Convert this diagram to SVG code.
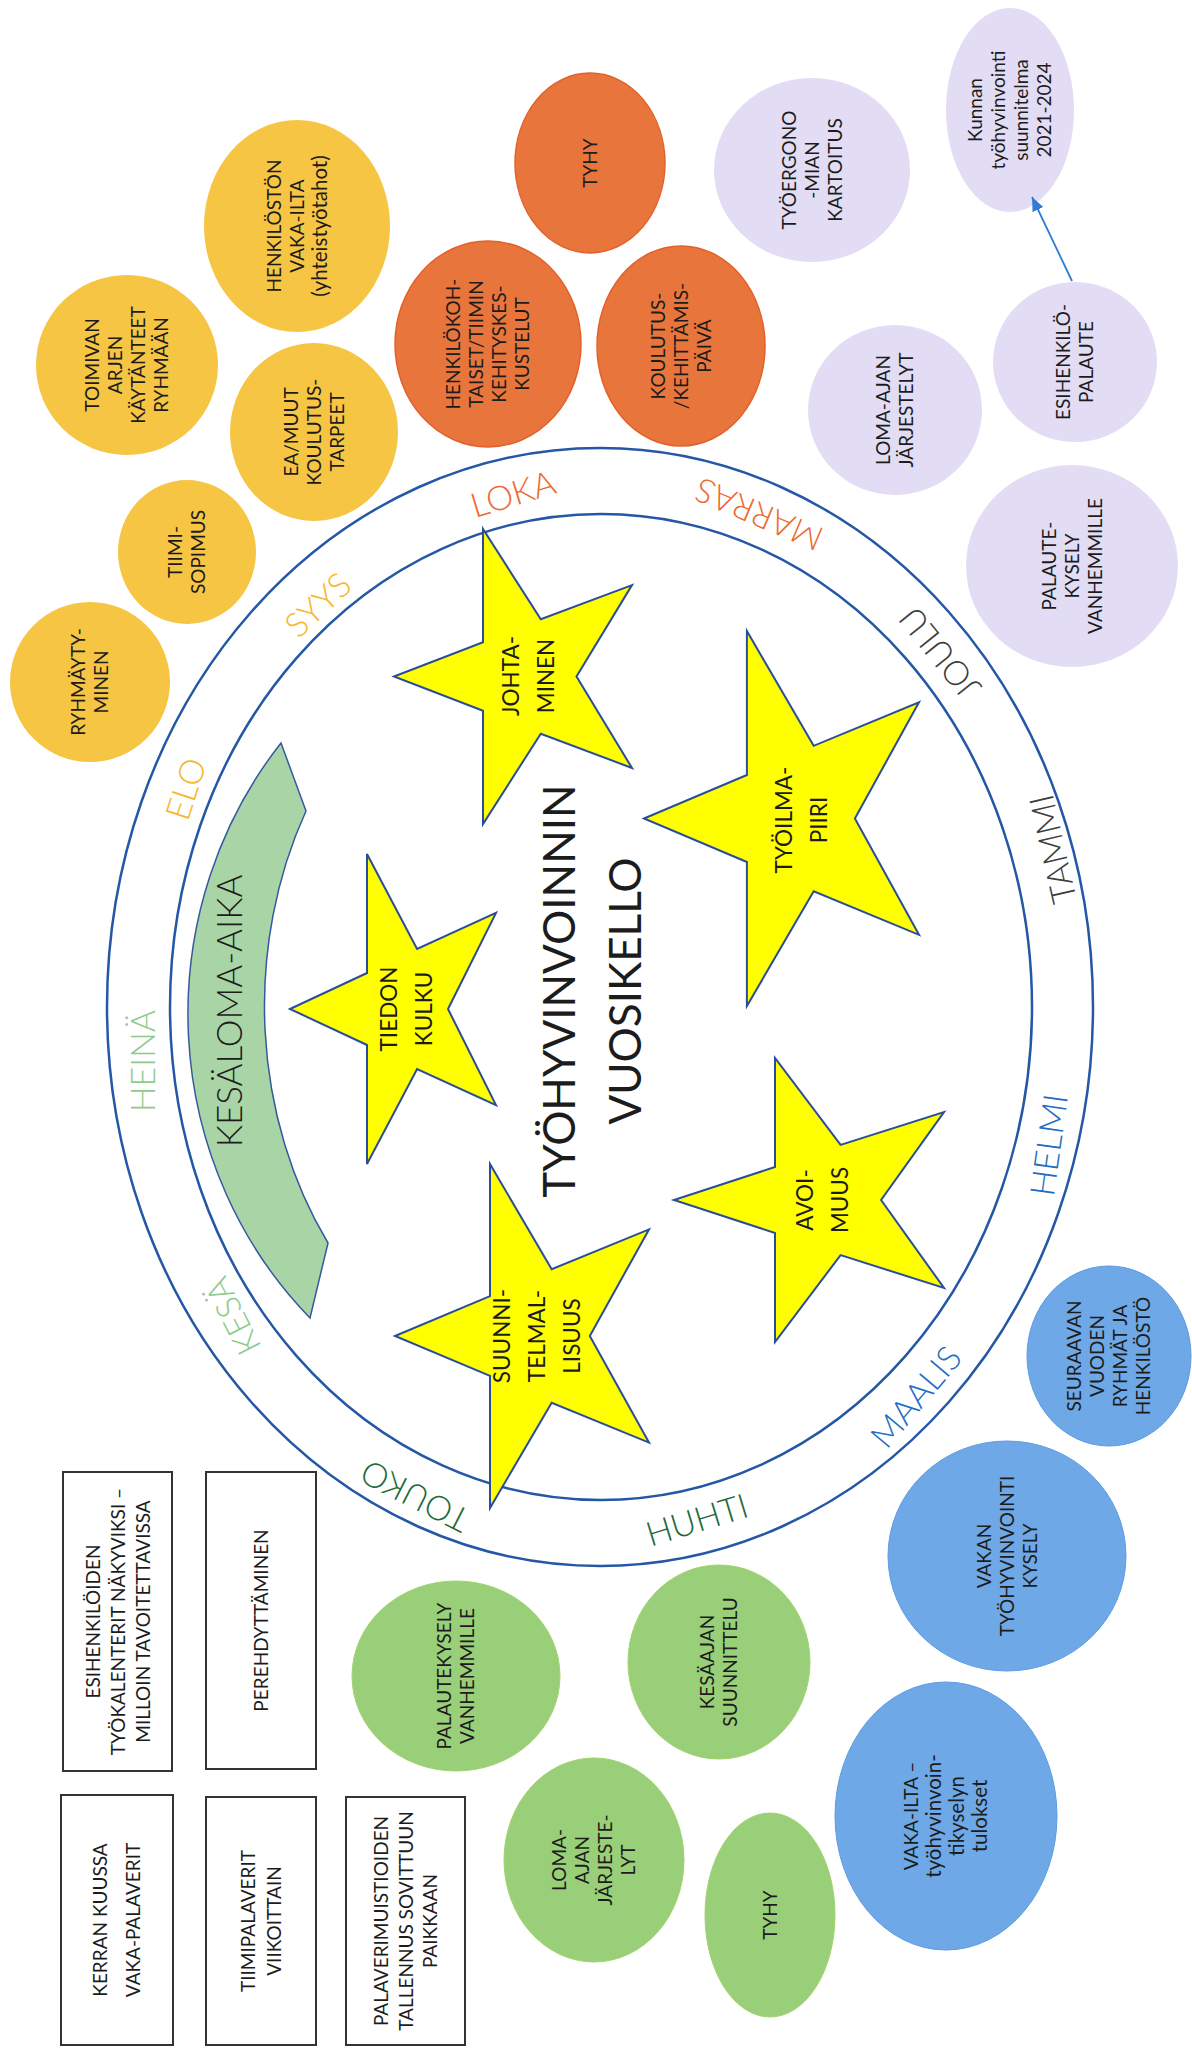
<svg xmlns="http://www.w3.org/2000/svg" width="1192" height="2056" viewBox="0 0 1192 2056">
<defs>
<style>
.t{font-family:Lato,"Open Sans","Liberation Sans",sans-serif;fill:#1c1c1c;text-anchor:middle}
.c{font-size:19px}
.s{font-size:22.5px}
.m{font-size:34px;font-weight:300}
.yel{fill:#F7C544}
.ora{fill:#E8763C;stroke:#E4602A;stroke-width:1.5}
.lil{fill:#E2DDF4}
.blu{fill:#6EA8E6;stroke:#5B9CE4;stroke-width:1}
.grn{fill:#99CF78;stroke:#A2D46C;stroke-width:1}
.star{fill:#FFFF00;stroke:#2A4D9B;stroke-width:2;stroke-linejoin:miter}
.ring{fill:none;stroke:#2457A6;stroke-width:2.5}
.box{fill:#fff;stroke:#333;stroke-width:2}
</style>
<marker id="ah" markerUnits="userSpaceOnUse" markerWidth="14" markerHeight="12" refX="14" refY="6" orient="auto">
<path d="M0,0 L14,6 L0,12 Z" fill="#2F7BD6"/>
</marker>
</defs>
<rect width="1192" height="2056" fill="#fff"/>

<g id="ring">
<ellipse class="ring" cx="600" cy="1007" rx="493" ry="559"/>
<ellipse class="ring" cx="601" cy="1007" rx="431" ry="493"/>
</g>

<g id="kesaloma">
<path d="M281,743 A412,428 0 0 0 310,1318 L328,1243 A336,405 0 0 1 306,811 Z" fill="#A9D4A6" stroke="#3559A0" stroke-width="1.5"/>
<text class="t" transform="translate(242 1011) rotate(-90)" font-size="35" font-weight="300">KESÄLOMA-AIKA</text>
</g>

<g id="title">
<text class="t" transform="translate(575 991) rotate(-90)" font-size="44">TYÖHYVINVOINNIN</text>
<text class="t" transform="translate(641 991) rotate(-90)" font-size="44">VUOSIKELLO</text>
</g>

<g id="months">
<text class="t m" transform="translate(513 494) rotate(-17)" dy=".35em" style="fill:#EE6A2F">LOKA</text>
<text class="t m" transform="translate(759 514) rotate(203)" dy=".35em" style="fill:#EE6A2F">MARRAS</text>
<text class="t m" transform="translate(940 653) rotate(231)" dy=".35em" style="fill:#3E3E3E">JOULU</text>
<text class="t m" transform="translate(1053 849) rotate(-103)" dy=".35em" style="fill:#3E3E3E">TAMMI</text>
<text class="t m" transform="translate(1049 1145) rotate(-82)" dy=".35em" style="fill:#1F6DC4">HELMI</text>
<text class="t m" transform="translate(916 1397) rotate(-50)" dy=".35em" style="fill:#1F6DC4">MAALIS</text>
<text class="t m" transform="translate(697 1520) rotate(-17)" dy=".35em" style="fill:#1E6A36">HUHTI</text>
<text class="t m" transform="translate(415 1496) rotate(207)" dy=".35em" style="fill:#1E6A36">TOUKO</text>
<text class="t m" transform="translate(233 1316) rotate(-117)" dy=".35em" style="fill:#8FCB8E">KESÄ</text>
<text class="t m" transform="translate(143 1061) rotate(-90)" dy=".35em" style="fill:#8FCB8E">HEINÄ</text>
<text class="t m" transform="translate(186 789) rotate(-72)" dy=".35em" style="fill:#F5B82E">ELO</text>
<text class="t m" transform="translate(318 605) rotate(-43)" dy=".35em" style="fill:#F5B82E">SYYS</text>
</g>

<g id="star-johtaminen">
<path class="star" d="M394,676.5 L483,642.3 L483,529 L540.8,619.3 L632,585.1 L576.5,676.5 L632,768 L540.8,733.7 L483,824 L483,710.7 Z"/>
<text class="t s" transform="translate(528 676) rotate(-90)"><tspan x="0" y="-9.5">JOHTA-</tspan><tspan x="0" y="25.5">MINEN</tspan></text>
</g>
<g id="star-tiedon">
<path class="star" d="M290,1009 L367,973 L367,854 L417.1,948.9 L496,912.9 L448,1009 L496,1105.1 L417.1,1069.1 L367,1164 L367,1045 Z"/>
<text class="t s" transform="translate(406 1009) rotate(-90)"><tspan x="0" y="-9.5">TIEDON</tspan><tspan x="0" y="25.5">KULKU</tspan></text>
</g>
<g id="star-tyoilmapiiri">
<path class="star" d="M644,818.5 L746.9,775 L746.9,631 L813.7,745.8 L919,702.3 L854.9,818.5 L919,934.8 L813.7,891.3 L746.9,1006 L746.9,862 Z"/>
<text class="t s" transform="translate(801 820) rotate(-90)"><tspan x="0" y="-9.5">TYÖILMA-</tspan><tspan x="0" y="25.5">PIIRI</tspan></text>
</g>
<g id="star-avoimuus">
<path class="star" d="M674,1200 L775,1167 L775,1058 L840.6,1144.9 L944,1112 L881.1,1200 L944,1288 L840.6,1255.1 L775,1342 L775,1233 Z"/>
<text class="t s" transform="translate(822 1200) rotate(-90)"><tspan x="0" y="-9.5">AVOI-</tspan><tspan x="0" y="25.5">MUUS</tspan></text>
</g>
<g id="star-suunnitelmallisuus">
<path class="star" d="M395,1336 L490,1296.1 L490,1164 L551.7,1269.3 L649,1229.4 L589.8,1336 L649,1442.6 L551.7,1402.7 L490,1508 L490,1375.9 Z"/>
<text class="t s" transform="translate(537 1336) rotate(-90)"><tspan x="0" y="-27">SUUNNI-</tspan><tspan x="0" y="8">TELMAL-</tspan><tspan x="0" y="43">LISUUS</tspan></text>
</g>

<g id="ryhmaytyminen" transform="translate(90 682)">
<ellipse class="yel" rx="80" ry="80"/>
<text class="t c" transform="rotate(-90)"><tspan x="0" y="-5">RYHMÄYTY-</tspan><tspan x="0" y="18">MINEN</tspan></text>
</g>
<g id="tiimisopimus" transform="translate(187 552)">
<ellipse class="yel" rx="69" ry="72"/>
<text class="t c" transform="rotate(-90)"><tspan x="0" y="-5">TIIMI-</tspan><tspan x="0" y="18">SOPIMUS</tspan></text>
</g>
<g id="toimivan" transform="translate(127 365)">
<ellipse class="yel" rx="91" ry="90"/>
<text class="t c" transform="rotate(-90)"><tspan x="0" y="-28">TOIMIVAN</tspan><tspan x="0" y="-5">ARJEN</tspan><tspan x="0" y="18">KÄYTÄNTEET</tspan><tspan x="0" y="41">RYHMÄÄN</tspan></text>
</g>
<g id="henkiloston" transform="translate(297 226)">
<ellipse class="yel" rx="93" ry="106"/>
<text class="t c" transform="rotate(-90)"><tspan x="0" y="-16">HENKILÖSTÖN</tspan><tspan x="0" y="7">VAKA-ILTA</tspan><tspan x="0" y="30" font-size="20.5">(yhteistyötahot)</tspan></text>
</g>
<g id="eamuut" transform="translate(314 432)">
<ellipse class="yel" rx="84" ry="89"/>
<text class="t c" transform="rotate(-90)"><tspan x="0" y="-16">EA/MUUT</tspan><tspan x="0" y="7">KOULUTUS-</tspan><tspan x="0" y="30">TARPEET</tspan></text>
</g>

<g id="tyhy-orange" transform="translate(590 163)">
<ellipse class="ora" rx="75" ry="90"/>
<text class="t c" transform="rotate(-90)"><tspan x="0" y="7">TYHY</tspan></text>
</g>
<g id="henkilokohtaiset" transform="translate(488 344)">
<ellipse class="ora" rx="93" ry="103"/>
<text class="t c" transform="rotate(-90)"><tspan x="0" y="-28">HENKILÖKOH-</tspan><tspan x="0" y="-5">TAISET/TIIMIN</tspan><tspan x="0" y="18">KEHITYSKES-</tspan><tspan x="0" y="41">KUSTELUT</tspan></text>
</g>
<g id="koulutuspaiva" transform="translate(681 346)">
<ellipse class="ora" rx="84" ry="100"/>
<text class="t c" transform="rotate(-90)"><tspan x="0" y="-16">KOULUTUS-</tspan><tspan x="0" y="7">/KEHITTÄMIS-</tspan><tspan x="0" y="30">PÄIVÄ</tspan></text>
</g>

<g id="tyoergonomia" transform="translate(812 170)">
<ellipse class="lil" rx="98" ry="92"/>
<text class="t c" transform="rotate(-90)"><tspan x="0" y="-16">TYÖERGONO</tspan><tspan x="0" y="7">-MIAN</tspan><tspan x="0" y="30">KARTOITUS</tspan></text>
</g>
<g id="kunnan" transform="translate(1010 110)">
<ellipse class="lil" rx="64" ry="102"/>
<text class="t c" transform="rotate(-90)" font-size="20.5"><tspan x="0" y="-28">Kunnan</tspan><tspan x="0" y="-5">työhyvinvointi</tspan><tspan x="0" y="18">suunnitelma</tspan><tspan x="0" y="41">2021-2024</tspan></text>
</g>
<g id="lomaajan-lila" transform="translate(895 410)">
<ellipse class="lil" rx="87" ry="85"/>
<text class="t c" transform="rotate(-90)"><tspan x="0" y="-5">LOMA-AJAN</tspan><tspan x="0" y="18">JÄRJESTELYT</tspan></text>
</g>
<g id="esihenkilopalaute" transform="translate(1075 362)">
<ellipse class="lil" rx="82" ry="80"/>
<text class="t c" transform="rotate(-90)"><tspan x="0" y="-5">ESIHENKILÖ-</tspan><tspan x="0" y="18">PALAUTE</tspan></text>
</g>
<g id="palautekysely-lila" transform="translate(1072 566)">
<ellipse class="lil" rx="106" ry="101"/>
<text class="t c" transform="rotate(-90)"><tspan x="0" y="-16">PALAUTE-</tspan><tspan x="0" y="7">KYSELY</tspan><tspan x="0" y="30">VANHEMMILLE</tspan></text>
</g>

<g id="seuraavan" transform="translate(1109 1356)">
<ellipse class="blu" rx="82" ry="90"/>
<text class="t c" transform="rotate(-90)"><tspan x="0" y="-28">SEURAAVAN</tspan><tspan x="0" y="-5">VUODEN</tspan><tspan x="0" y="18">RYHMÄT JA</tspan><tspan x="0" y="41">HENKILÖSTÖ</tspan></text>
</g>
<g id="vakan-kysely" transform="translate(1007 1556)">
<ellipse class="blu" rx="119" ry="115"/>
<text class="t c" transform="rotate(-90)"><tspan x="0" y="-16">VAKAN</tspan><tspan x="0" y="7">TYÖHYVINVOINTI</tspan><tspan x="0" y="30">KYSELY</tspan></text>
</g>
<g id="vaka-ilta-tulokset" transform="translate(946 1816)">
<ellipse class="blu" rx="111" ry="134"/>
<text class="t c" transform="rotate(-90)"><tspan x="0" y="-28">VAKA-ILTA –</tspan><tspan x="0" y="-5" font-size="20.5">työhyvinvoin-</tspan><tspan x="0" y="18" font-size="20.5">tikyselyn</tspan><tspan x="0" y="41" font-size="20.5">tulokset</tspan></text>
</g>

<g id="palautekysely-vihrea" transform="translate(456 1676)">
<ellipse class="grn" rx="104" ry="95"/>
<text class="t c" transform="rotate(-90)"><tspan x="0" y="-5">PALAUTEKYSELY</tspan><tspan x="0" y="18">VANHEMMILLE</tspan></text>
</g>
<g id="kesaajan" transform="translate(719 1662)">
<ellipse class="grn" rx="91" ry="97"/>
<text class="t c" transform="rotate(-90)"><tspan x="0" y="-5">KESÄAJAN</tspan><tspan x="0" y="18">SUUNNITTELU</tspan></text>
</g>
<g id="lomaajan-vihrea" transform="translate(594 1860)">
<ellipse class="grn" rx="90" ry="102"/>
<text class="t c" transform="rotate(-90)"><tspan x="0" y="-28">LOMA-</tspan><tspan x="0" y="-5">AJAN</tspan><tspan x="0" y="18">JÄRJESTE-</tspan><tspan x="0" y="41">LYT</tspan></text>
</g>
<g id="tyhy-vihrea" transform="translate(770 1915)">
<ellipse class="grn" rx="65" ry="102"/>
<text class="t c" transform="rotate(-90)"><tspan x="0" y="7">TYHY</tspan></text>
</g>

<g id="box-esihenkiloiden" transform="translate(117.5 1621.5)">
<rect class="box" x="-54.5" y="-149.5" width="109" height="299"/>
<text class="t c" transform="rotate(-90)"><tspan x="0" y="-18">ESIHENKILÖIDEN</tspan><tspan x="0" y="7">TYÖKALENTERIT NÄKYVIKSI –</tspan><tspan x="0" y="32">MILLOIN TAVOITETTAVISSA</tspan></text>
</g>
<g id="box-perehdyttaminen" transform="translate(261 1620.5)">
<rect class="box" x="-55" y="-148.5" width="110" height="297"/>
<text class="t c" transform="rotate(-90)"><tspan x="0" y="7">PEREHDYTTÄMINEN</tspan></text>
</g>
<g id="box-kerran" transform="translate(117 1920)">
<rect class="box" x="-56" y="-125" width="112" height="250"/>
<text class="t c" transform="rotate(-90)"><tspan x="0" y="-10">KERRAN KUUSSA</tspan><tspan x="0" y="23">VAKA-PALAVERIT</tspan></text>
</g>
<g id="box-tiimipalaverit" transform="translate(261 1921)">
<rect class="box" x="-55" y="-124" width="110" height="248"/>
<text class="t c" transform="rotate(-90)"><tspan x="0" y="-6">TIIMIPALAVERIT</tspan><tspan x="0" y="20">VIIKOITTAIN</tspan></text>
</g>
<g id="box-palaverimuistiot" transform="translate(405.5 1921)">
<rect class="box" x="-59.5" y="-124" width="119" height="248"/>
<text class="t c" transform="rotate(-90)"><tspan x="0" y="-18">PALAVERIMUISTIOIDEN</tspan><tspan x="0" y="7">TALLENNUS SOVITTUUN</tspan><tspan x="0" y="31">PAIKKAAN</tspan></text>
</g>

<g id="connectors">
<line x1="1072" y1="281" x2="1032" y2="197" stroke="#2F7BD6" stroke-width="1.8" marker-end="url(#ah)"/>
</g>
</svg>
